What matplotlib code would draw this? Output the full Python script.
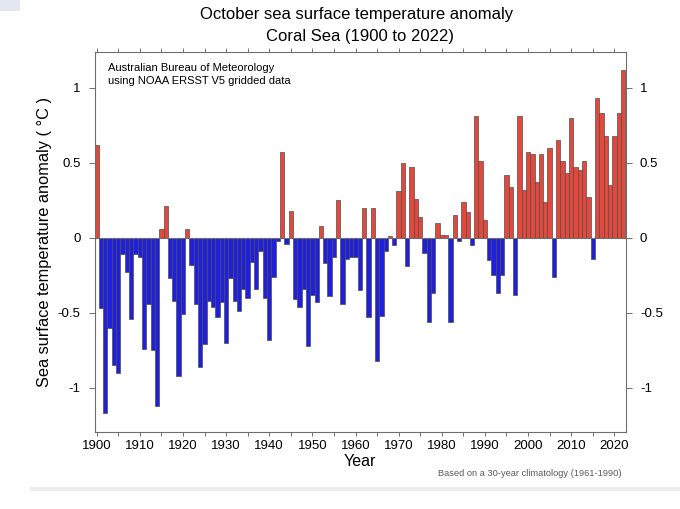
import matplotlib
matplotlib.use("Agg")
import matplotlib.pyplot as plt
from matplotlib.patches import Rectangle
from matplotlib.ticker import FixedLocator, MultipleLocator, FuncFormatter

# October SST anomaly, Coral Sea (deg C)
years = list(range(1900, 2023))
anomaly = [
    0.62, -0.47, -1.17, -0.60, -0.85, -0.90, -0.11, -0.23, -0.54, -0.11,   # 1900s
    -0.13, -0.74, -0.44, -0.75, -1.12, 0.06, 0.21, -0.27, -0.42, -0.92,    # 1910s
    -0.51, 0.06, -0.18, -0.44, -0.86, -0.71, -0.42, -0.46, -0.53, -0.43,   # 1920s
    -0.70, -0.27, -0.42, -0.49, -0.34, -0.40, -0.16, -0.34, -0.09, -0.40,  # 1930s
    -0.68, -0.26, -0.02, 0.57, -0.04, 0.18, -0.41, -0.46, -0.34, -0.72,    # 1940s
    -0.38, -0.43, 0.08, -0.17, -0.39, -0.13, 0.25, -0.44, -0.14, -0.13,    # 1950s
    -0.13, -0.35, 0.20, -0.53, 0.20, -0.82, -0.52, -0.09, 0.01, -0.05,     # 1960s
    0.31, 0.50, -0.19, 0.47, 0.26, 0.14, -0.10, -0.56, -0.37, 0.10,        # 1970s
    0.02, 0.02, -0.56, 0.15, -0.02, 0.24, 0.17, -0.05, 0.81, 0.51,         # 1980s
    0.12, -0.15, -0.25, -0.37, -0.25, 0.42, 0.34, -0.38, 0.81, 0.32,       # 1990s
    0.57, 0.56, 0.37, 0.56, 0.24, 0.60, -0.26, 0.65, 0.51, 0.43,           # 2000s
    0.80, 0.47, 0.45, 0.51, 0.27, -0.14, 0.93, 0.83, 0.68, 0.35,           # 2010s
    0.68, 0.83, 1.12,                                                      # 2020s
]
y_ticks = [-1, -0.5, 0, 0.5, 1]

title_lines = ["October sea surface temperature anomaly", "Coral Sea (1900 to 2022)"]
source_note = "Australian Bureau of Meteorology\nusing NOAA ERSST V5 gridded data"
footnote = "Based on a 30-year climatology (1961-1990)"

RED = "#e2483b"
BLUE = "#1f1fdc"
EDGE = "#4d4d4d"
FRAME = "#6e6e6e"

plt.rcParams["font.family"] = ["Liberation Sans", "DejaVu Sans"]
plt.rcParams["axes.unicode_minus"] = False

W, H = 680, 509
fig = plt.figure(figsize=(W / 100, H / 100), dpi=100)
fig.patch.set_facecolor("white")

# screenshot leftovers: small tint top-left and grey band near the bottom
fig.patches.append(Rectangle((0, 1 - 11 / H), 20 / W, 11 / H, transform=fig.transFigure,
                             facecolor="#e4e6f0", edgecolor="none"))
fig.patches.append(Rectangle((30 / W, 1 - 491 / H), 1 - 30 / W, 4 / H, transform=fig.transFigure,
                             facecolor="#ececec", edgecolor="none"))

left, right, top, bottom = 94.5, 626, 52, 432
ax = fig.add_axes([left / W, 1 - bottom / H, (right - left) / W, (bottom - top) / H])

colors = [RED if v >= 0 else BLUE for v in anomaly]
ax.bar(years, anomaly, width=1.0, color=colors, edgecolor=EDGE, linewidth=0.5, zorder=2)
ax.axhline(0, color=FRAME, linewidth=0.8, zorder=3)

ax.set_xlim(1899.5, 2022.7)
ax.set_ylim(-1.295, 1.238)

ax.xaxis.set_major_locator(MultipleLocator(10))
ax.xaxis.set_minor_locator(MultipleLocator(5))
ax.yaxis.set_major_locator(FixedLocator(y_ticks))
ax.yaxis.set_major_formatter(FuncFormatter(lambda v, _: f"{v:g}"))

ax.tick_params(axis="x", which="both", direction="out", length=3, width=0.7,
               color=FRAME, top=True, labelsize=9.5, pad=3)
ax.tick_params(axis="y", which="both", direction="out", length=4, width=0.7,
               color=FRAME, right=True, labelright=True, labelsize=9.5, pad=6)

for side in ax.spines.values():
    side.set_color(FRAME)
    side.set_linewidth(0.8)

ax.set_xlabel("Year", fontsize=11.5, labelpad=1)
ax.set_ylabel("Sea surface temperature anomaly ( \u00b0C )", fontsize=11.8, labelpad=4)

fig.text(357 / W, 1 - 15 / H, title_lines[0], ha="center", va="center", fontsize=12)
fig.text(360 / W, 1 - 37 / H, title_lines[1], ha="center", va="center", fontsize=12)

ax.text(0.026, 0.972, source_note, transform=ax.transAxes, ha="left", va="top",
        fontsize=8, linespacing=1.45)

fig.text(530 / W, 1 - 473 / H, footnote, ha="center", va="center",
         fontsize=6.7, color="#5a5a5a")

fig.savefig("out.png", dpi=100, facecolor="white")
